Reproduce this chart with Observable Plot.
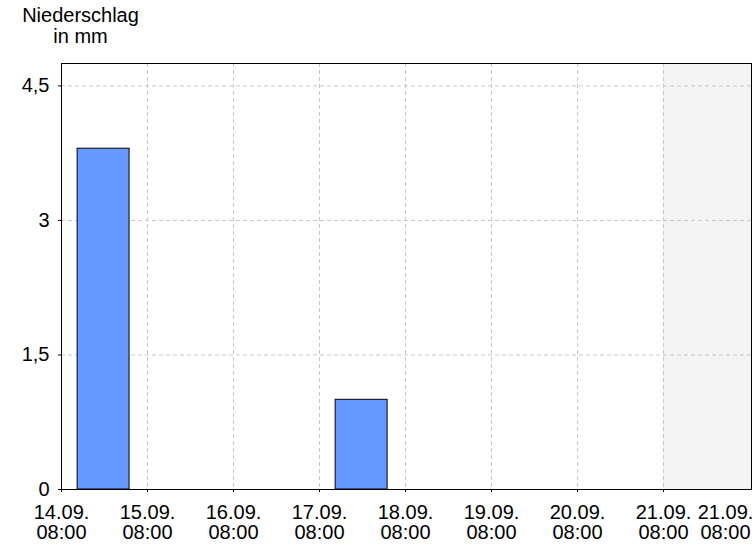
<!DOCTYPE html>
<html>
<head>
<meta charset="utf-8">
<script src="https://cdn.jsdelivr.net/npm/d3@7"></script>
<script src="https://cdn.jsdelivr.net/npm/@observablehq/plot@0.6"></script>
<style>
  html, body { margin: 0; padding: 0; background: white; }
</style>
</head>
<body>
<div id="chart"></div>
<script>
// ---- data ----
const barStart = ["2023-09-14T12:30", "2023-09-17T12:30"];
const barEnd   = ["2023-09-15T03:00", "2023-09-18T03:00"];
const precip   = [3.8, 1.0];

const dayTicks = ["2023-09-14T08:00", "2023-09-15T08:00", "2023-09-16T08:00", "2023-09-17T08:00",
                  "2023-09-18T08:00", "2023-09-19T08:00", "2023-09-20T08:00", "2023-09-21T08:00"];
const dayLabels = ["14.09.\n08:00", "15.09.\n08:00", "16.09.\n08:00", "17.09.\n08:00",
                   "18.09.\n08:00", "19.09.\n08:00", "20.09.\n08:00", "21.09.\n08:00"];
const domainStart = "2023-09-14T08:00";
const domainEnd   = "2023-09-22T08:33";
const endLabel    = "21.09.\n08:00";
const shadeStart  = "2023-09-21T08:00";
const yTicks = [0, 1.5, 3, 4.5];
const yMax = 4.75;
const yTitleLines = ["Niederschlag", "in mm"];

// ---- build ----
const parse = s => new Date(s);
const bars = precip.map((v, i) => ({x1: parse(barStart[i]), x2: parse(barEnd[i]), v}));
const ticks = dayTicks.map(parse);
const labelMap = new Map(ticks.map((d, i) => [d.getTime(), dayLabels[i]]));
const grid = "#c8c8c8";
const font = 20;

const chart = Plot.plot({
  width: 756,
  height: 546,
  marginLeft: 61,
  marginRight: 5,
  marginTop: 63,
  marginBottom: 57,
  style: {fontFamily: "'Liberation Sans', Arial, sans-serif", fontSize: "20px", background: "white", color: "black"},
  x: {type: "time", domain: [parse(domainStart), parse(domainEnd)], axis: null},
  y: {domain: [0, yMax], axis: null},
  marks: [
    Plot.rect([{a: parse(shadeStart), b: parse(domainEnd)}], {x1: "a", x2: "b", y1: 0, y2: yMax, fill: "#f4f4f4"}),
    Plot.gridY(yTicks.filter(d => d > 0), {stroke: grid, strokeOpacity: 1, strokeDasharray: "4,3"}),
    Plot.gridX(ticks.slice(1), {stroke: grid, strokeOpacity: 1, strokeDasharray: "4,3"}),
    Plot.rect(bars, {x1: "x1", x2: "x2", y1: 0, y2: "v", fill: "#6699ff", stroke: "black", strokeWidth: 1}),
    Plot.frame({stroke: "black", strokeWidth: 1}),
    Plot.axisY(yTicks, {
      tickSize: 3, tickPadding: 9, fontSize: font, label: null,
      tickFormat: d => String(d).replace(".", ",")
    }),
    Plot.axisX(ticks, {
      tickSize: 3, tickPadding: 12, fontSize: font, lineHeight: 1, label: null,
      tickFormat: d => labelMap.get(d.getTime())
    }),
    Plot.text([parse(domainEnd)], {
      x: d => d, frameAnchor: "bottom", dy: 15, dx: -26,
      text: () => endLabel, lineAnchor: "top", lineHeight: 1, fontSize: font, fill: "black"
    }),
    Plot.text([yTitleLines[0]], {
      frameAnchor: "top-left", dx: 19, dy: -42, text: d => d,
      lineAnchor: "bottom", fontSize: font, fill: "black", textAnchor: "middle"
    }),
    Plot.text([yTitleLines[1]], {
      frameAnchor: "top-left", dx: 19, dy: -21, text: d => d,
      lineAnchor: "bottom", fontSize: font, fill: "black", textAnchor: "middle"
    })
  ]
});
document.getElementById("chart").appendChild(chart);
</script>
</body>
</html>
